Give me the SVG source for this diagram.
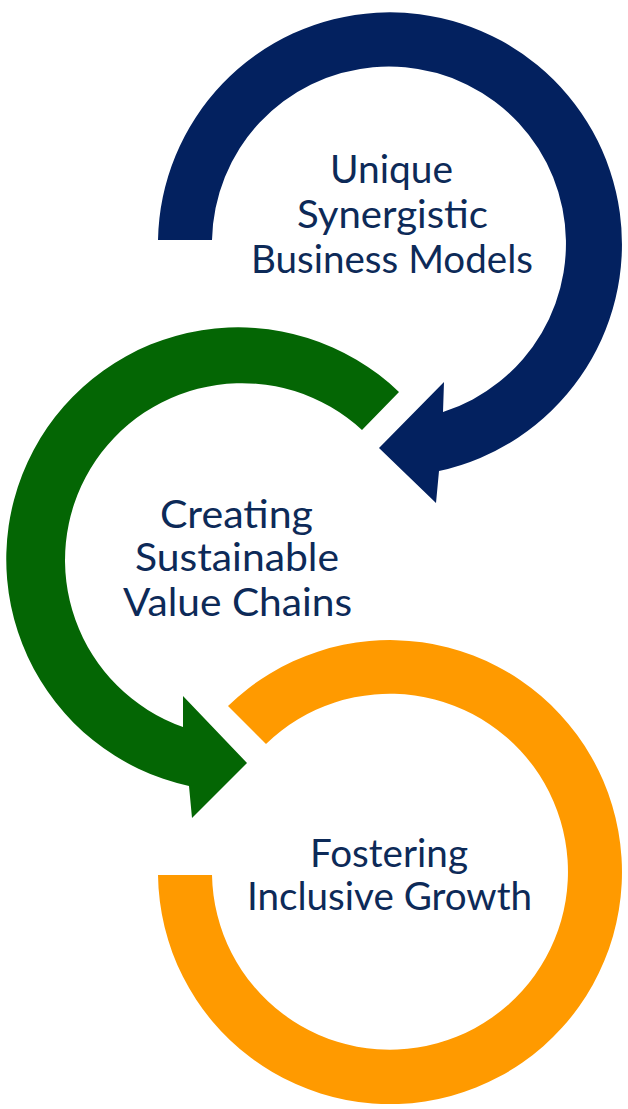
<svg xmlns="http://www.w3.org/2000/svg" width="628" height="1109" viewBox="0 0 628 1109">
<style>
.lbl{font-family:Lato,"Noto Sans","Liberation Sans",sans-serif;font-size:38px;fill:#0D2A58;}
.blue{fill:#03215F;}
.green{fill:#046604;}
.orange{fill:#FF9A00;}
</style>
<rect width="628" height="1109" fill="#ffffff"/>
<g id="connectors">
<path id="arrow-blue" class="blue" d="M158,240 A232,232 0 1 1 439,471 L436,503 L379,448 L444,382 L443,412 A177,177 0 1 0 212,240 Z"/>
<path id="arrow-green" class="green" d="M399,392 A232,232 0 1 0 189,786 L192,818 L247,763 L183,696 L183,727 A177,177 0 1 1 362,430 Z"/>
<path id="ring-orange" class="orange" d="M228,706 A232,232 0 1 1 158,875 L212,875 A178,178 0 1 0 266,744 Z"/>
</g>
<g id="node-unique">
<text class="lbl" x="330" y="183" textLength="123" lengthAdjust="spacingAndGlyphs">Unique</text>
<text class="lbl" x="297" y="228" textLength="191" lengthAdjust="spacingAndGlyphs">Synergistic</text>
<text class="lbl" x="251" y="273" textLength="282" lengthAdjust="spacingAndGlyphs">Business Models</text>
</g>
<g id="node-creating">
<text class="lbl" x="160" y="528" textLength="153" lengthAdjust="spacingAndGlyphs">Creating</text>
<text class="lbl" x="135" y="571" textLength="204" lengthAdjust="spacingAndGlyphs">Sustainable</text>
<text class="lbl" x="123" y="616" textLength="229" lengthAdjust="spacingAndGlyphs">Value Chains</text>
</g>
<g id="node-fostering">
<text class="lbl" x="310" y="867" textLength="158" lengthAdjust="spacingAndGlyphs">Fostering</text>
<text class="lbl" x="247" y="910" textLength="285" lengthAdjust="spacingAndGlyphs">Inclusive Growth</text>
</g>
</svg>
